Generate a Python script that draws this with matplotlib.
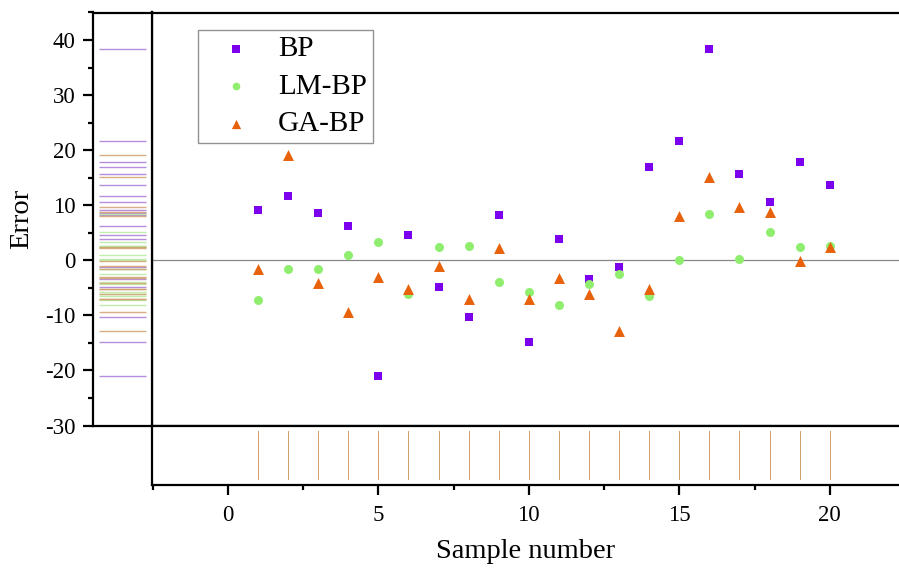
import matplotlib
matplotlib.use("Agg")
import matplotlib.pyplot as plt
from matplotlib.ticker import MultipleLocator

plt.rcParams['font.family'] = ['Liberation Serif', 'DejaVu Serif']
plt.rcParams['axes.unicode_minus'] = False

samples = list(range(1, 21))
bp = [9.2, 11.6, 8.6, 6.2, -21.1, 4.6, -4.8, -10.3, 8.2, -14.9,
      3.9, -3.4, -1.3, 16.9, 21.7, 38.3, 15.6, 10.5, 17.9, 13.6]
lm_bp = [-7.3, -1.5, -1.5, 0.9, 3.4, -6.1, 2.5, 2.6, -4.0, -5.7,
         -8.2, -4.3, -2.4, -6.4, 0.1, 8.4, 0.3, 5.1, 2.4, 2.6]
ga_bp = [-1.5, 19.2, -4.2, -9.3, -3.0, -5.2, -1.0, -7.1, 2.2, -7.1,
         -3.2, -6.2, -12.8, -5.3, 8.0, 15.2, 9.7, 8.7, -0.1, 2.5]
series_names = ["BP", "LM-BP", "GA-BP"]

c_bp = "#7B00EE"
c_lm = "#8FEE6E"
c_ga = "#E8620C"
rug_bp = "#A87CD8"
rug_lm = "#B4EA9C"
rug_ga = "#D3A070"

W, H = 899, 569
fig = plt.figure(figsize=(W / 100, H / 100), dpi=100)

def fx(px):
    return px / W

def fy(py):
    return 1 - py / H

top, mid, bot = 12.5, 425.5, 485
left_rug_l, main_l = 93, 152

ax = fig.add_axes([fx(main_l), fy(mid), fx(W - main_l), fy(top) - fy(mid)])
axl = fig.add_axes([fx(left_rug_l), fy(mid), fx(main_l - left_rug_l), fy(top) - fy(mid)], sharey=ax)
axb = fig.add_axes([fx(main_l), fy(bot), fx(W - main_l), fy(mid) - fy(bot)], sharex=ax)

ylim = (-30, 45)
xlim = (-2.52, 22.3)
ax.set_xlim(*xlim)
ax.set_ylim(*ylim)

ax.axhline(0, color="#888888", lw=0.9, zorder=1)
ax.scatter(samples, bp, marker="s", s=38, color=c_bp, label=series_names[0], zorder=3, linewidths=0)
ax.scatter(samples, lm_bp, marker="o", s=42, color=c_lm, label=series_names[1], zorder=3, linewidths=0)
ax.scatter(samples, ga_bp, marker="^", s=62, color=c_ga, label=series_names[2], zorder=3, linewidths=0)

for a in (ax, axl, axb):
    for s in a.spines.values():
        s.set_linewidth(1.6)
        s.set_color("black")

ax.spines['right'].set_visible(False)
ax.tick_params(axis='both', which='both', left=False, bottom=False, labelleft=False, labelbottom=False)

leg = ax.legend(loc="upper left",
                bbox_to_anchor=(fx(198 - main_l) / fx(W - main_l), (fy(30) - fy(mid)) / (fy(top) - fy(mid))),
                fontsize=21, frameon=True, fancybox=False, edgecolor="#777777",
                handletextpad=0.34, borderpad=0.2, labelspacing=0.38, markerscale=0.85,
                handlelength=2.2, borderaxespad=0)
leg.get_frame().set_linewidth(1.0)

# left rug
for vals, c in ((bp, rug_bp), (lm_bp, rug_lm), (ga_bp, rug_ga)):
    for v in vals:
        axl.plot([0.1, 0.9], [v, v], color=c, alpha=0.85, lw=1.0, solid_capstyle='butt')
axl.set_xlim(0, 1)
axl.set_xticks([])
axl.yaxis.set_major_locator(MultipleLocator(10))
axl.yaxis.set_minor_locator(MultipleLocator(5))
axl.tick_params(axis='y', which='major', direction='out', length=7.5, width=1.6, labelsize=16.5, pad=5)
axl.tick_params(axis='y', which='minor', direction='out', length=3.8, width=1.6)
axl.set_ylabel("Error", fontsize=20.5, labelpad=8)

# bottom rug (all series share the same x positions; the last drawn shows on top)
for c in (rug_bp, rug_lm, rug_ga):
    for xv in samples:
        axb.plot([xv, xv], [0.1, 0.9], color=c, lw=0.7, solid_capstyle='butt',
                 antialiased=False)
axb.set_ylim(0, 1)
axb.set_yticks([])
axb.spines['right'].set_visible(False)
axb.xaxis.set_major_locator(MultipleLocator(5))
axb.xaxis.set_minor_locator(MultipleLocator(2.5))
axb.tick_params(axis='x', which='major', direction='out', length=7.5, width=1.6, labelsize=16.5, pad=7)
axb.tick_params(axis='x', which='minor', direction='out', length=3.8, width=1.6)
axb.set_xlabel("Sample number", fontsize=20.5, labelpad=9)
ax.set_xlim(*xlim)

fig.savefig("out.png", dpi=100)
